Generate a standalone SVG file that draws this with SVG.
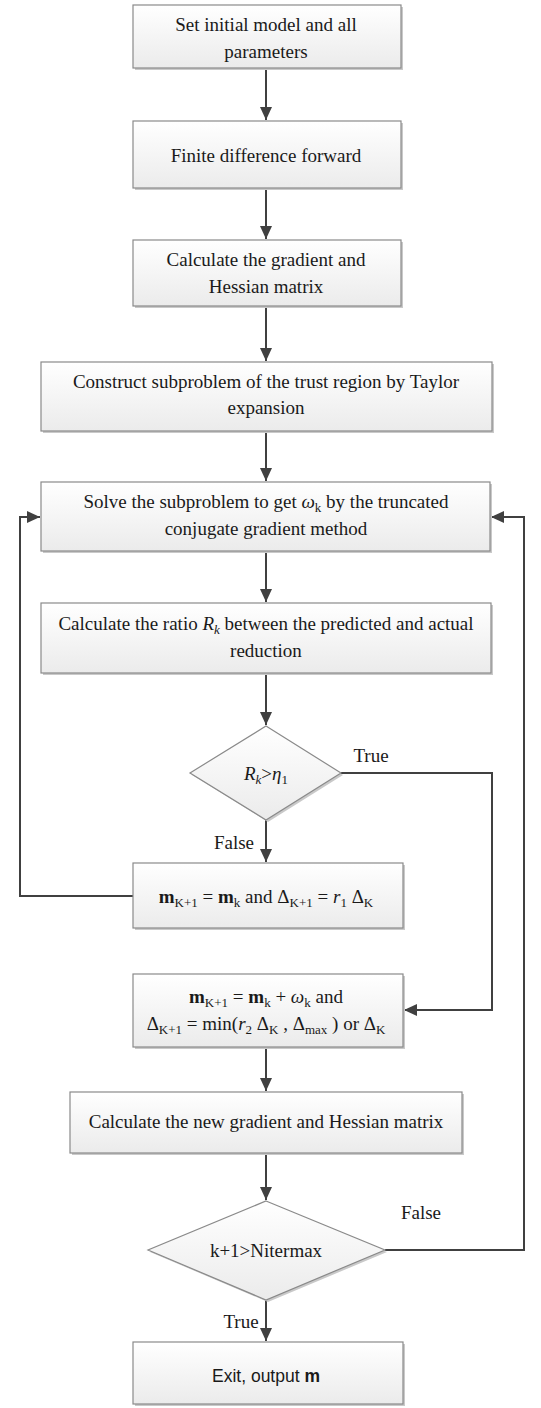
<svg xmlns="http://www.w3.org/2000/svg" width="541" height="1408" viewBox="0 0 541 1408">
<defs>
<linearGradient id="g" x1="0" y1="0" x2="0" y2="1">
<stop offset="0" stop-color="#ffffff"/>
<stop offset="1" stop-color="#ebebeb"/>
</linearGradient>
<marker id="arr" markerUnits="userSpaceOnUse" markerWidth="14" markerHeight="12" refX="13" refY="6" orient="auto">
<path d="M0,0 L13,6 L0,12 z" fill="#404040"/>
</marker>
<style>
.sh{fill:#c9c9c9}
.bx{fill:url(#g);stroke:#8a8a8a;stroke-width:1.2}
.t{font-family:"Liberation Serif","Times New Roman",serif;font-size:19px;fill:#1a1a1a;text-anchor:middle}
.s{font-size:13px}
.i{font-style:italic}
.b{font-weight:bold}
.cn{fill:none;stroke:#404040;stroke-width:2}
.sans{font-family:"Liberation Sans",Arial,sans-serif;font-size:17.5px}
</style>
</defs>

<g id="connectors">
<path class="cn" d="M266,68 V120" marker-end="url(#arr)"/>
<path class="cn" d="M266,188 V239" marker-end="url(#arr)"/>
<path class="cn" d="M266,306 V361" marker-end="url(#arr)"/>
<path class="cn" d="M266,431 V481" marker-end="url(#arr)"/>
<path class="cn" d="M266,551 V602" marker-end="url(#arr)"/>
<path class="cn" d="M266,673 V725" marker-end="url(#arr)"/>
<path class="cn" d="M266,820 V862" marker-end="url(#arr)"/>
<path class="cn" d="M341,773 H492 V1010 H404" marker-end="url(#arr)"/>
<path class="cn" d="M133,896 H20 V517 H40" marker-end="url(#arr)"/>
<path class="cn" d="M266,1047 V1091" marker-end="url(#arr)"/>
<path class="cn" d="M266,1153 V1200" marker-end="url(#arr)"/>
<path class="cn" d="M385,1250 H524 V517 H491" marker-end="url(#arr)"/>
<path class="cn" d="M266,1300 V1341" marker-end="url(#arr)"/>
<text class="t" x="371" y="762">True</text>
<text class="t" x="234" y="849">False</text>
<text class="t" x="421" y="1219">False</text>
<text class="t" x="241" y="1328">True</text>
</g>

<g id="n1">
<rect class="sh" x="135" y="7" width="268" height="63"/>
<rect class="bx" x="133" y="5" width="268" height="63"/>
<text class="t" x="266" y="31">Set initial model and all</text>
<text class="t" x="266" y="58">parameters</text>
</g>

<g id="n2">
<rect class="sh" x="135" y="123" width="268" height="67"/>
<rect class="bx" x="133" y="121" width="268" height="67"/>
<text class="t" x="266" y="162">Finite difference forward</text>
</g>

<g id="n3">
<rect class="sh" x="135" y="242" width="268" height="66"/>
<rect class="bx" x="133" y="240" width="268" height="66"/>
<text class="t" x="266" y="266">Calculate the gradient and</text>
<text class="t" x="266" y="293">Hessian matrix</text>
</g>

<g id="n4">
<rect class="sh" x="43" y="364" width="451" height="69"/>
<rect class="bx" x="41" y="362" width="451" height="69"/>
<text class="t" x="266" y="388">Construct subproblem of the trust region by Taylor</text>
<text class="t" x="266" y="414">expansion</text>
</g>

<g id="n5">
<rect class="sh" x="43" y="484" width="449" height="69"/>
<rect class="bx" x="41" y="482" width="449" height="69"/>
<text class="t" x="266" y="508">Solve the subproblem to get <tspan class="i">ω</tspan><tspan class="s" dy="4">k</tspan><tspan dy="-4"> by the truncated</tspan></text>
<text class="t" x="266" y="535">conjugate gradient method</text>
</g>

<g id="n6">
<rect class="sh" x="43" y="605" width="450" height="70"/>
<rect class="bx" x="41" y="603" width="450" height="70"/>
<text class="t" x="266" y="630">Calculate the ratio <tspan class="i">R</tspan><tspan class="s i" dy="4">k</tspan><tspan dy="-4"> between the predicted and actual</tspan></text>
<text class="t" x="266" y="657">reduction</text>
</g>

<g id="d1">
<polygon class="sh" points="268,728 343,775 268,822 192,775"/>
<polygon class="bx" points="266,726 341,773 266,820 190,773"/>
<text class="t" x="266" y="780"><tspan class="i">R</tspan><tspan class="s i" dy="4">k</tspan><tspan dy="-4">&gt;</tspan><tspan class="i">η</tspan><tspan class="s" dy="4">1</tspan></text>
</g>

<g id="n7">
<rect class="sh" x="135" y="865" width="270" height="65"/>
<rect class="bx" x="133" y="863" width="270" height="65"/>
<text class="t" x="266" y="903"><tspan class="b">m</tspan><tspan class="s" dy="4">K+1</tspan><tspan dy="-4"> = </tspan><tspan class="b">m</tspan><tspan class="s" dy="4">k</tspan><tspan dy="-4"> and Δ</tspan><tspan class="s" dy="4">K+1</tspan><tspan dy="-4"> = </tspan><tspan class="i">r</tspan><tspan class="s" dy="4">1</tspan><tspan dy="-4"> Δ</tspan><tspan class="s" dy="4">K</tspan></text>
</g>

<g id="n8">
<rect class="sh" x="135" y="976" width="270" height="73"/>
<rect class="bx" x="133" y="974" width="270" height="73"/>
<text class="t" x="266" y="1003"><tspan class="b">m</tspan><tspan class="s" dy="4">K+1</tspan><tspan dy="-4"> = </tspan><tspan class="b">m</tspan><tspan class="s" dy="4">k</tspan><tspan dy="-4"> + </tspan><tspan class="i">ω</tspan><tspan class="s" dy="4">k</tspan><tspan dy="-4"> and</tspan></text>
<text class="t" x="266" y="1030">Δ<tspan class="s" dy="4">K+1</tspan><tspan dy="-4"> = min(</tspan><tspan class="i">r</tspan><tspan class="s" dy="4">2</tspan><tspan dy="-4"> Δ</tspan><tspan class="s" dy="4">K</tspan><tspan dy="-4"> , Δ</tspan><tspan class="s" dy="4">max</tspan><tspan dy="-4"> ) or Δ</tspan><tspan class="s" dy="4">K</tspan></text>
</g>

<g id="n9">
<rect class="sh" x="72" y="1094" width="392" height="61"/>
<rect class="bx" x="70" y="1092" width="392" height="61"/>
<text class="t" x="266" y="1128">Calculate the new gradient and Hessian matrix</text>
</g>

<g id="d2">
<polygon class="sh" points="268,1203 387,1252 268,1302 150,1252"/>
<polygon class="bx" points="266,1201 385,1250 266,1300 148,1250"/>
<text class="t" x="266" y="1257">k+1&gt;Nitermax</text>
</g>

<g id="n10">
<rect class="sh" x="135" y="1344" width="270" height="62"/>
<rect class="bx" x="133" y="1342" width="270" height="62"/>
<text class="t sans" x="266" y="1382">Exit, output <tspan class="b">m</tspan></text>
</g>
</svg>
